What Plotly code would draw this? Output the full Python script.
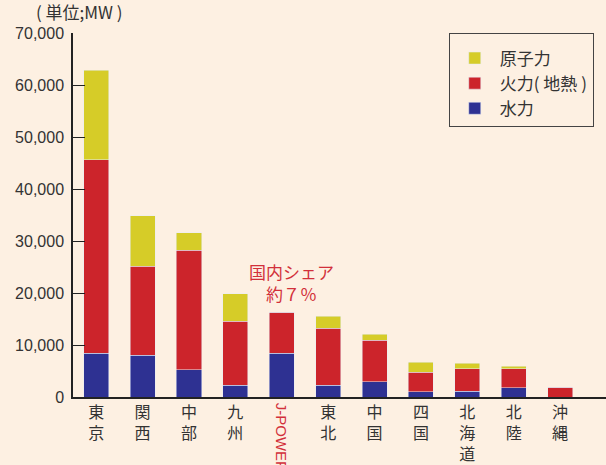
import plotly.graph_objects as go

categories = ["東京", "関西", "中部", "九州", "J-POWER", "東北", "中国", "四国", "北海道", "北陸", "沖縄"]
hydro = [8400, 8050, 5200, 2300, 8400, 2300, 2900, 1000, 1150, 1750, 0]
thermal = [37200, 17050, 23000, 12300, 7900, 10900, 8000, 3800, 4250, 3650, 1900]
nuclear = [17200, 9800, 3400, 5300, 0, 2300, 1200, 1900, 1100, 500, 0]

tick_labels = ["<br>".join(list(c)) if c != "J-POWER" else "" for c in categories]

BG = "#fdf0e2"
FONT = "Liberation Sans, Noto Sans CJK JP, sans-serif"
CJK = "Noto Sans CJK JP, sans-serif"

fig = go.Figure()
fig.add_trace(go.Bar(x=categories, y=hydro, name="水力", legendgroup="h",
                     marker_color="#2e3192", width=0.54))
fig.add_trace(go.Bar(x=categories, y=thermal, name="火力( 地熱 )", legendgroup="t",
                     marker_color="#cc242b", width=0.54))
fig.add_trace(go.Bar(x=categories, y=nuclear, name="原子力", legendgroup="n",
                     marker_color="#d6cc28", width=0.54))

fig.update_layout(
    barmode="stack",
    width=606, height=465,
    margin=dict(l=73, r=0, t=33, b=66),
    paper_bgcolor=BG, plot_bgcolor=BG,
    font=dict(family=FONT, color="#333333"),
    legend=dict(
        x=0.705, y=1.0, xanchor="left", yanchor="top",
        traceorder="reversed",
        bgcolor=BG, bordercolor="#444444", borderwidth=1,
        font=dict(family=CJK, size=17, color="#333333"),
        title=dict(text=" ", font=dict(size=5)),
        itemwidth=40, tracegroupgap=18,
    ),
    xaxis=dict(
        type="category",
        range=[-0.5, 10.99],
        tickmode="array", tickvals=categories, ticktext=tick_labels,
        tickfont=dict(family=CJK, size=16, color="#333333"),
        showline=True, linecolor="#222222", linewidth=2,
        ticks="", tickangle=0,
    ),
    yaxis=dict(
        range=[0, 70000],
        tickvals=[0, 10000, 20000, 30000, 40000, 50000, 60000, 70000],
        tickformat=",d",
        tickfont=dict(family=FONT, size=16, color="#333333"),
        showline=True, linecolor="#222222", linewidth=1.5,
        ticks="inside", ticklen=12, tickcolor="#222222",
        ticklabelstandoff=4,
        showgrid=False, zeroline=False,
    ),
    bargap=0.46,
)

fig.add_annotation(
    x="J-POWER", y=0, xref="x", yref="y",
    text="J-POWER", textangle=90, showarrow=False,
    xanchor="center", yanchor="top", yshift=-4,
    font=dict(family=FONT, size=15, color="#d2303a"),
)
fig.add_annotation(
    x="九州", y=22000, xref="x", yref="y", xshift=56,
    text="国内シェア<br>約７％", showarrow=False,
    font=dict(family=CJK, size=17, color="#d2303a"),
    align="center",
)
fig.add_annotation(
    x=0.013, y=1.0, xref="paper", yref="paper",
    text="( 単位;MW )", showarrow=False,
    xanchor="center", yanchor="bottom", yshift=7,
    font=dict(family=CJK, size=17, color="#333333"),
)

fig.write_html("out.html")
